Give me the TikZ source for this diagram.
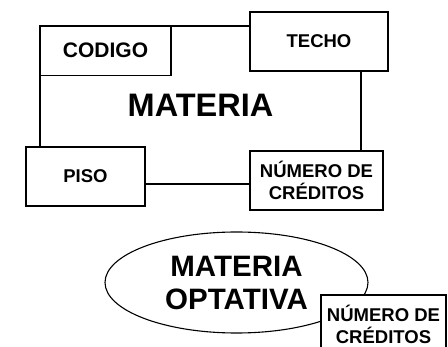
\documentclass[tikz,border=0pt]{standalone}
\usepackage{fontspec}
\setmainfont{Liberation Sans}
\usetikzlibrary{shapes.geometric}

\begin{document}
\begin{tikzpicture}[x=1pt, y=-1pt, line width=1.1pt,
caja/.style={rectangle, draw=black, fill=white, inner sep=0pt, align=center, font=\bfseries\fontsize{18.5}{22}\selectfont}]
\useasboundingbox (0,0) rectangle (448,347);
\node (1) [rectangle, draw=black, inner sep=0pt, minimum width=321pt, minimum height=158pt, font=\bfseries\fontsize{32.5}{38}\selectfont] at (200.5, 105)  {MATERIA};
\node (2) [caja, minimum width=131pt, minimum height=49.5pt, font=\bfseries\fontsize{21}{25}\selectfont] at (105.5, 50.75)  {CODIGO};
\node (3) [caja, minimum width=138pt, minimum height=59pt] at (319.0, 41.5)  {TECHO};
\node (4) [caja, minimum width=119pt, minimum height=59pt] at (85.5, 176.5)  {PISO};
\node (5) [caja, minimum width=133pt, minimum height=59pt] at (316.5, 180.5)  {NÚMERO DE\\CRÉDITOS};
\node (6) [ellipse, draw=black, inner sep=0pt, minimum width=263pt, minimum height=101pt, align=center, font=\bfseries\fontsize{29.5}{33}\selectfont] at (236.5, 282.5)  {MATERIA\\OPTATIVA};
\node (7) [caja, minimum width=125pt, minimum height=59pt] at (383.5, 324.5)  {NÚMERO DE\\CRÉDITOS};
\end{tikzpicture}
\end{document}
